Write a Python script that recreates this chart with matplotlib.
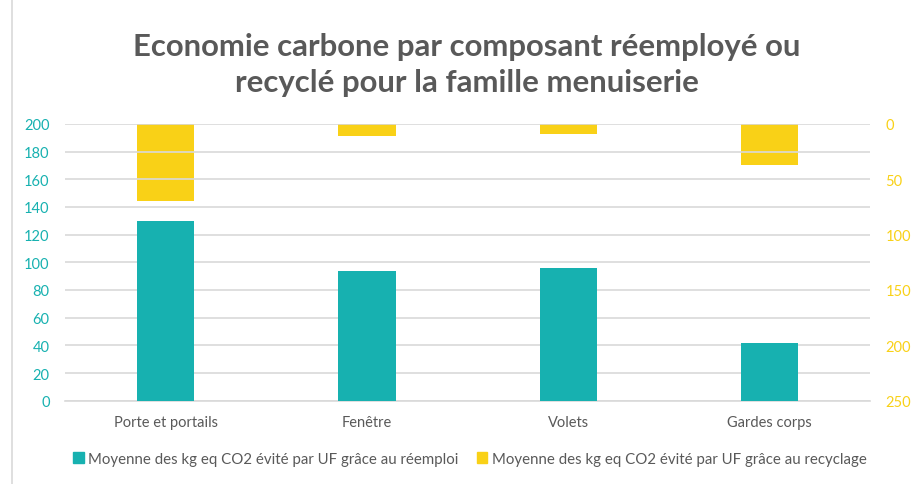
import matplotlib
matplotlib.use("Agg")
import matplotlib.pyplot as plt
import matplotlib.patches as mpatches
import numpy as np

categories = ["Porte et portails", "Fenêtre", "Volets", "Gardes corps"]
reemploi = [130, 94, 96, 41.5]
recyclage = [70, 10.5, 8.7, 37]
left_ticks = list(range(0, 201, 20))
right_ticks = list(range(0, 251, 50))

C_TEAL = "#17b1b0"
C_YELLOW = "#f9d117"
C_TEXT = "#595959"
C_GRID = "#d9d9d9"
FONT = ["Lato", "DejaVu Sans"]
plt.rcParams["font.family"] = FONT

fig = plt.figure(figsize=(9.14, 4.85), dpi=100)
ax = fig.add_axes([0.0711, 0.1718, 0.8809, 0.5705])
ax2 = ax.twinx()

x = np.arange(len(categories))
w = 0.285
ax.bar(x, reemploi, width=w, color=C_TEAL, zorder=3)
ax2.bar(x, recyclage, width=w, color=C_YELLOW, zorder=3)

ax.set_xlim(-0.5, len(categories) - 0.5)
ax.set_ylim(0, 200)
ax2.set_ylim(250, 0)
ax.set_yticks(left_ticks)
ax2.set_yticks(right_ticks)
ax.set_xticks(x)
ax.set_xticklabels(categories, color=C_TEXT, fontsize=10.5)
ax.tick_params(axis="x", length=0, pad=10)
ax.tick_params(axis="y", length=0, colors=C_TEAL, labelsize=10.5, pad=11)
ax2.tick_params(axis="y", length=0, colors=C_YELLOW, labelsize=10.5, pad=11)
ax.grid(axis="y", color=C_GRID, lw=1.2, zorder=0)
for a in (ax, ax2):
    for s in a.spines.values():
        s.set_visible(False)
ax.spines["bottom"].set_visible(True)
ax.spines["bottom"].set_color(C_GRID)
ax.spines["bottom"].set_linewidth(1.2)
ax.set_zorder(ax2.get_zorder() + 1)
ax.patch.set_visible(False)

fig.text(0.511, 0.866, "Economie carbone par composant réemployé ou\nrecyclé pour la famille menuiserie",
         ha="center", va="center", color=C_TEXT, fontsize=22.4, fontweight="bold",
         linespacing=1.35)

handles = [mpatches.Patch(color=C_TEAL, label="Moyenne des kg eq CO2 évité par UF grâce au réemploi"),
           mpatches.Patch(color=C_YELLOW, label="Moyenne des kg eq CO2 évité par UF grâce au recyclage")]
leg = fig.legend(handles=handles, loc="center", bbox_to_anchor=(0.514, 0.052), ncol=2,
                 frameon=False, fontsize=10.8, handlelength=0.7, handleheight=0.7,
                 handletextpad=0.3, columnspacing=1.2)
for t in leg.get_texts():
    t.set_color(C_TEXT)

fig.patches.append(mpatches.Rectangle((0.013, -0.01), 1.0, 1.02, transform=fig.transFigure,
                                      fill=False, edgecolor=C_GRID, lw=1.2))

fig.savefig("out.png", dpi=100)
